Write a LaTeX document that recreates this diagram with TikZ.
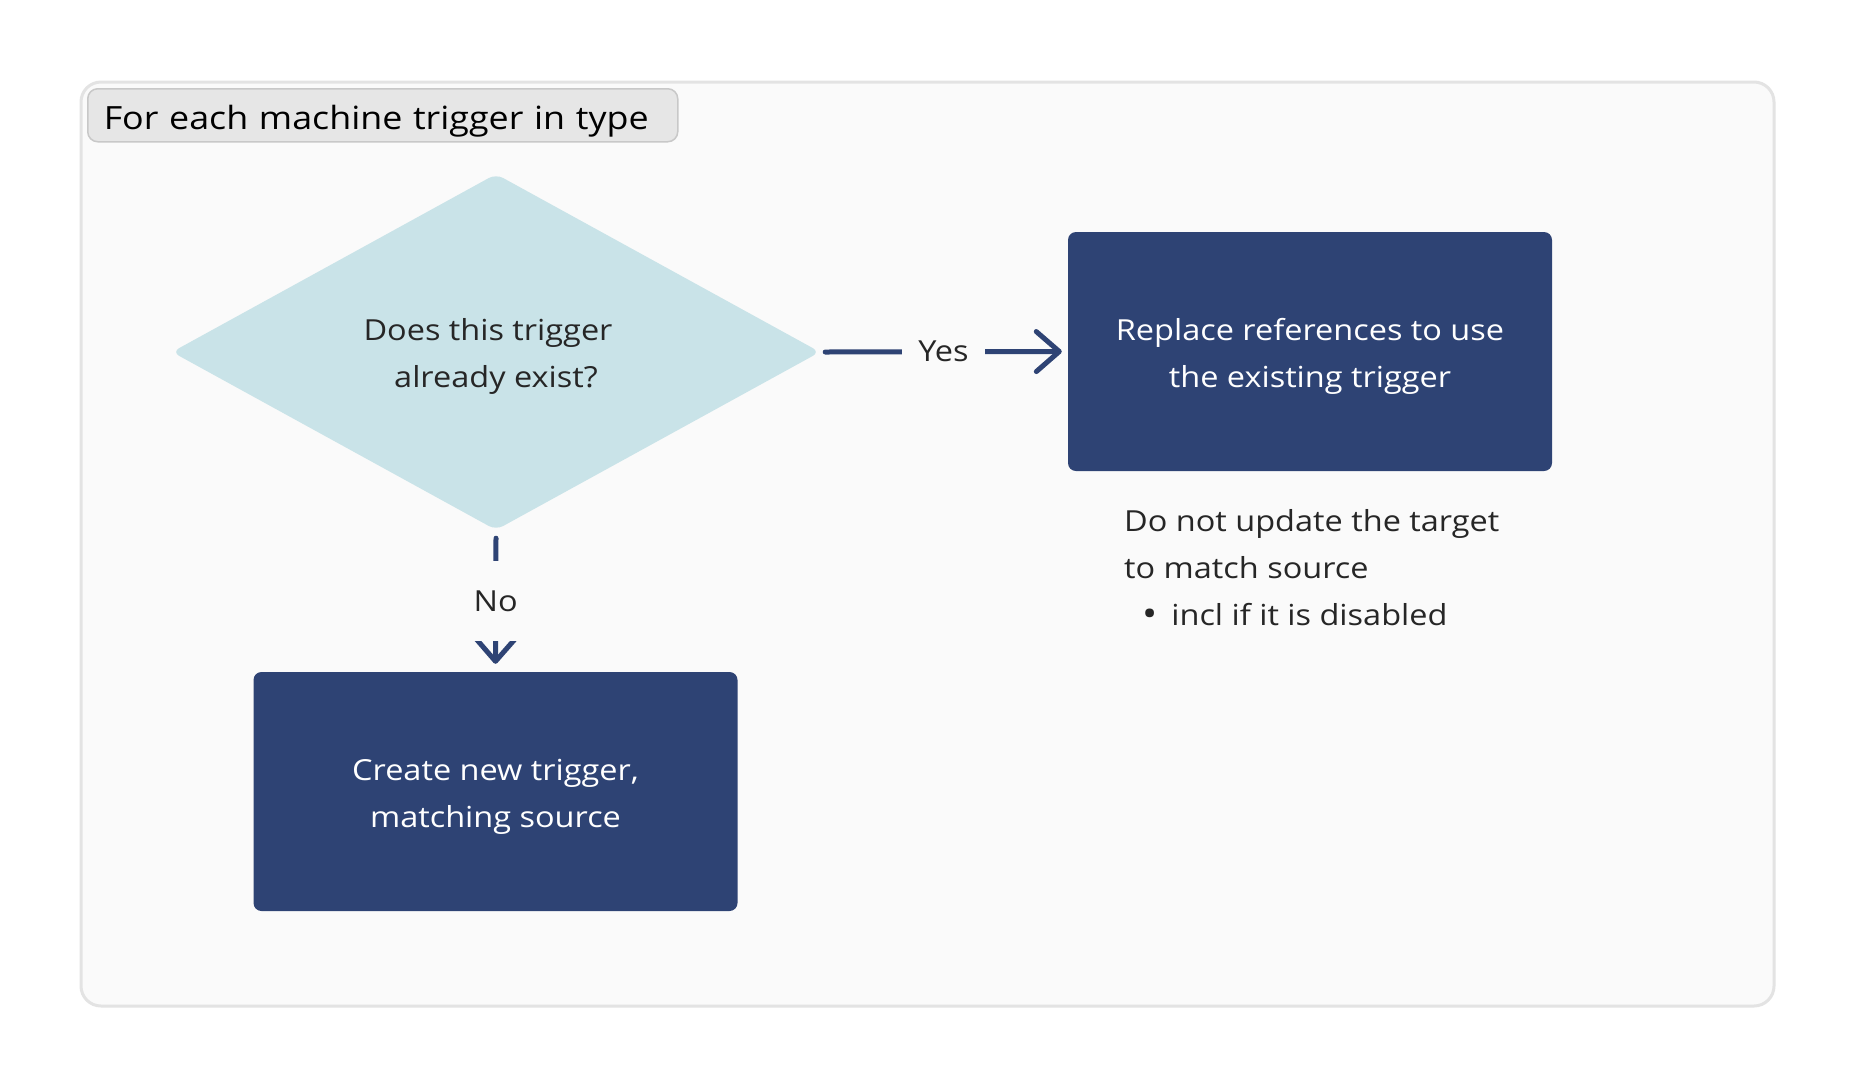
\documentclass[tikz,border=0pt]{standalone}
\usepackage{fontspec}
\setmainfont{Open Sans}[FakeStretch=1.12]
\usetikzlibrary{arrows.meta,shapes.geometric}
\definecolor{navy}{HTML}{2E4374}
\definecolor{diamondc}{HTML}{C9E3E8}
\definecolor{framefill}{HTML}{FAFAFA}
\definecolor{framedraw}{HTML}{E3E3E3}
\definecolor{titlefill}{HTML}{E6E6E6}
\definecolor{titledraw}{HTML}{C8C8C8}
\definecolor{txt}{HTML}{262626}
\newcommand{\lift}{\rule{0pt}{31pt}}
\tikzset{
  bodyfont/.style={font=\fontsize{29}{47}\selectfont},
  framebox/.style={fill=framefill, draw=framedraw, line width=3pt, rounded corners=20pt},
  titlebox/.style={fill=titlefill, draw=titledraw, line width=1.5pt, rounded corners=10pt,
    text width=558pt, inner xsep=16pt, inner ysep=0pt, minimum height=53pt, align=left,
    font=\fontsize{32}{40}\selectfont, text=black},
  decision/.style={diamond, fill=diamondc, minimum width=648pt, minimum height=356pt,
    aspect=1.82, inner sep=0pt, rounded corners=8pt, align=center, bodyfont, text=txt},
  procbox/.style={fill=navy, rounded corners=8pt, minimum width=484pt, minimum height=239pt,
    inner sep=0pt, align=center, bodyfont, text=white},
  conn/.style={draw=navy, line width=5pt, line cap=round,
    -{Straight Barb[length=23pt, width=40pt, line cap=round, line join=round]}},
  hlbl/.style={fill=framefill, minimum width=83pt, inner sep=0pt, minimum height=30pt, bodyfont, text=txt},
  vlbl/.style={fill=framefill, minimum height=80pt, inner sep=0pt, minimum width=50pt, bodyfont, text=txt},
  note/.style={align=left, inner sep=0pt, bodyfont, text=txt},
}
\begin{document}
\begin{tikzpicture}[x=1pt, y=-1pt]
\useasboundingbox (0,0) rectangle (1856,1088);
\fill[white] (0,0) rectangle (1856,1088);
\draw[framebox] (81,82) rectangle (1774,1006);
\node[titlebox, anchor=north west] (title) at (87,88) {\rule{0pt}{36pt}For each machine trigger in type};
\node[decision] (q) at (496,352) {\lift Does this trigger\hspace*{16pt}\\already exist?};
\node[procbox] (r) at (1310,351.5) {\lift Replace references to use\\the existing trigger};
\node[procbox] (b) at (495.5,791.5) {\lift Create new trigger,\\matching source};
\node[note, anchor=west] (n) at (1124,568) {Do not update the target\\to match source\\\hspace*{18pt}{\fontsize{36}{40}\selectfont\raisebox{-1pt}{\textbullet}}\hspace{14pt}incl if it is disabled};
\draw[conn] ([xshift=5pt]q.east) -- node[hlbl] (yes) {Yes} ([xshift=-6pt]r.west);
\draw[conn] ([yshift=-8pt]q.south) -- node[vlbl] (no) {No} ([yshift=8pt]b.north);
\end{tikzpicture}
\end{document}
